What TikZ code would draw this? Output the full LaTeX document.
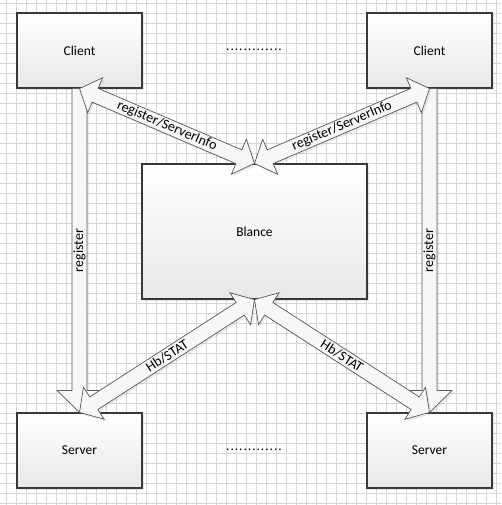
\documentclass[tikz,border=0pt]{standalone}
\usepackage{fontspec}
\setmainfont{Carlito}
\usepackage{tikz}
\usetikzlibrary{calc,shadows}

\tikzset{
  box/.style={draw=black!78, line width=1.1pt, top color=white, bottom color=black!9,
    minimum width=125pt, minimum height=75pt, inner sep=0pt, font=\fontsize{13.5}{16}\selectfont,
    drop shadow={opacity=0.18, shadow xshift=2pt, shadow yshift=-2pt}},
  blockarrow/.style={draw=black!65, line width=0.7pt, fill=black!3, line join=miter,
    drop shadow={opacity=0.15, shadow xshift=2pt, shadow yshift=-2pt}},
  lbl/.style={inner sep=0pt, font=\fontsize{14}{16}\selectfont},
  gridline/.style={draw=black!16, line width=0.6pt},
}

% block arrow with one head, at the second node
\newcommand{\onewayarrow}[2]{%
  \draw[blockarrow] let \p1=(#1), \p2=(#2),
    \n1={atan2(\y2-\y1,\x2-\x1)}, \n2={veclen(\x2-\x1,\y2-\y1)} in
    [shift={(\p1)}, rotate=\n1]
    (0pt,7.5pt) -- (\n2-22pt,7.5pt) -- (\n2-22pt,22.5pt) -- (\n2,0pt)
    -- (\n2-22pt,-22.5pt) -- (\n2-22pt,-7.5pt) -- (0pt,-7.5pt) -- cycle;}

% block arrow with a head at both nodes
\newcommand{\twowayarrow}[2]{%
  \draw[blockarrow] let \p1=(#1), \p2=(#2),
    \n1={atan2(\y2-\y1,\x2-\x1)}, \n2={veclen(\x2-\x1,\y2-\y1)} in
    [shift={(\p1)}, rotate=\n1]
    (0pt,0pt) -- (17pt,19pt) -- (17pt,7.5pt) -- (\n2-17pt,7.5pt) -- (\n2-17pt,19pt)
    -- (\n2,0pt) -- (\n2-17pt,-19pt) -- (\n2-17pt,-7.5pt) -- (17pt,-7.5pt)
    -- (17pt,-19pt) -- cycle;}

\newcommand{\gapdots}{\foreach \d in {1,...,13}{.\kern0.95pt}}

\begin{document}
\begin{tikzpicture}[x=1pt, y=-1pt]
\useasboundingbox (0,0) rectangle (501,505);
\fill[white] (0,0) rectangle (501,505);

% grid
\foreach \gx in {6,16,...,496} \draw[gridline] (\gx,0) -- (\gx,505);
\foreach \gy in {3.5,13.5,...,503.5} \draw[gridline] (0,\gy) -- (501,\gy);

% boxes
\node[box] (client1) at (79.5,50.5) {Client};
\node[box] (client2) at (429.5,50.5) {Client};
\node[box, minimum width=225pt, minimum height=135pt] (blance) at (254.5,231.5) {Blance};
\node[box] (server1) at (79.5,450.5) {Server};
\node[box] (server2) at (429.5,450.5) {Server};

\node[inner sep=0pt, font=\fontsize{13.5}{16}\selectfont] (dots1) at (254.5,50) {\gapdots};
\node[inner sep=0pt, font=\fontsize{13.5}{16}\selectfont] (dots2) at (254.5,450) {\gapdots};

% arrows
\onewayarrow{client1.south}{server1.north}
\onewayarrow{client2.south}{server2.north}
\twowayarrow{client1.south}{blance.north}
\twowayarrow{blance.north}{client2.south}
\twowayarrow{server1.north}{blance.south}
\twowayarrow{blance.south}{server2.north}

% labels
\path (client1.south) -- node[lbl, rotate=90] {register} (server1.north);
\path (client2.south) -- node[lbl, rotate=90] {register} (server2.north);
\path (client1.south) -- node[lbl, sloped] {register/ServerInfo} (blance.north);
\path (blance.north) -- node[lbl, sloped] {register/ServerInfo} (client2.south);
\path (server1.north) -- node[lbl, sloped] {Hb/STAT} (blance.south);
\path (blance.south) -- node[lbl, sloped] {Hb/STAT} (server2.north);
\end{tikzpicture}
\end{document}
